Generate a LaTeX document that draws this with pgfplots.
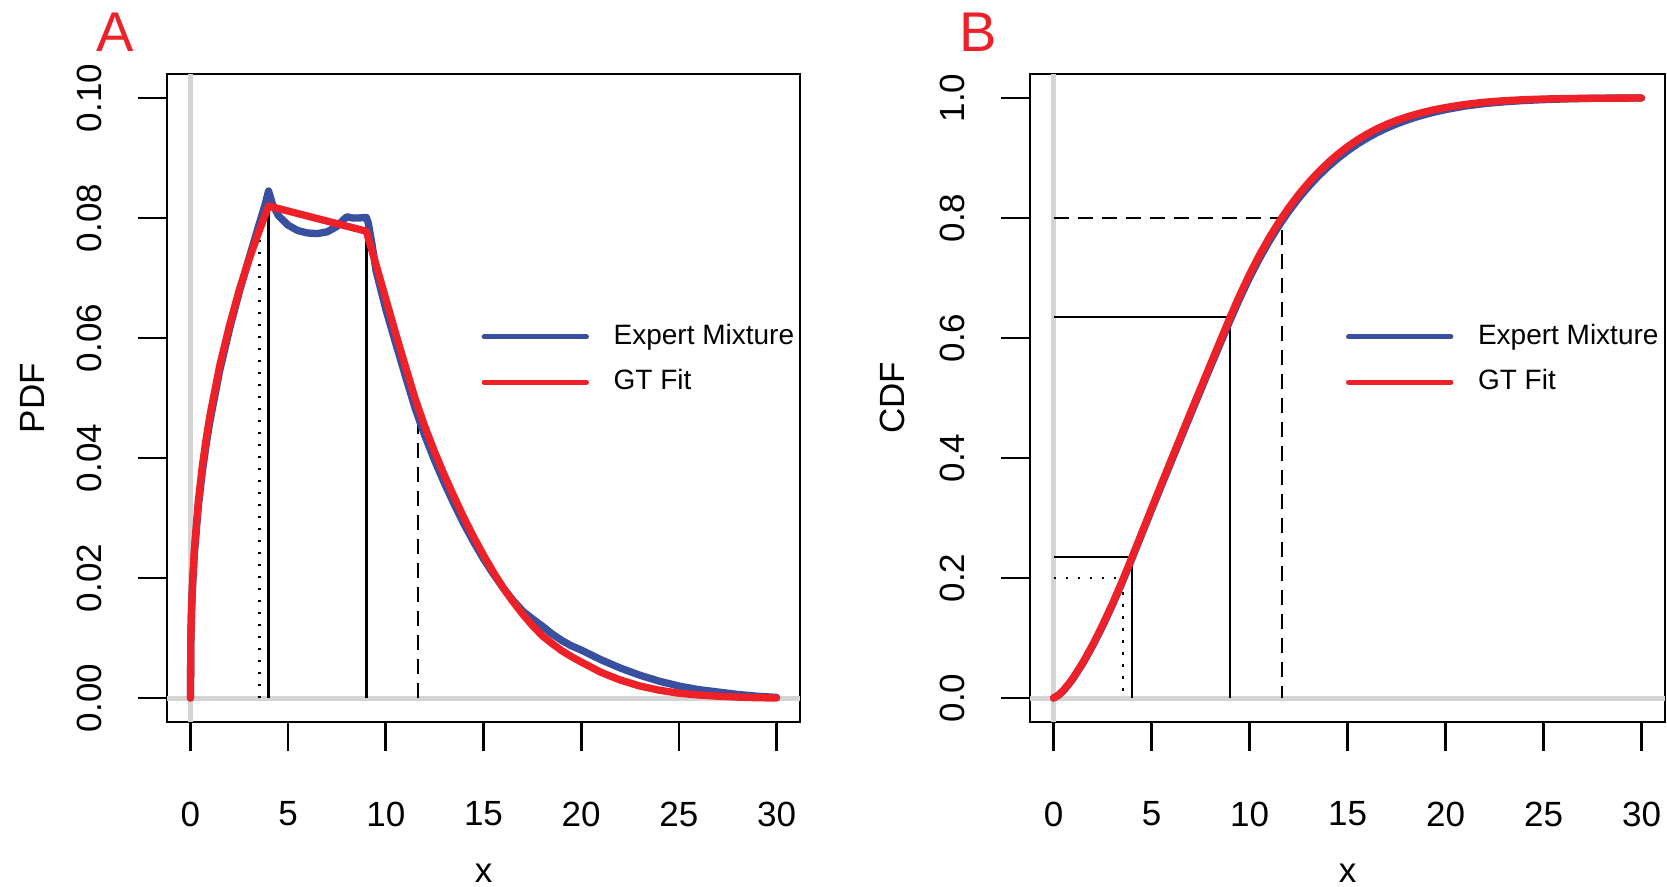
\documentclass[border=0pt]{standalone}
\usepackage{fontspec}
\setmainfont{Liberation Sans}
\usepackage{pgfplots}
\pgfplotsset{compat=1.18}

\definecolor{emblue}{RGB}{57,79,160}
\definecolor{gtred}{RGB}{237,33,39}
\definecolor{refgray}{RGB}{212,212,212}

\pgfplotsset{
  rpanel/.style={
    scale only axis,
    anchor=south west,
    height=194.4pt,
    xmin=-1.2, xmax=31.2,
    axis line style={line width=0.8pt, black},
    tick align=outside,
    major tick length=8.7pt,
    tick style={line width=0.8pt, black},
    tick pos=left,
    xtick={0,5,...,30},
    tick label style={font=\fontsize{10.5}{12}\selectfont},
    label style={font=\fontsize{10.5}{12}\selectfont},
    /pgf/number format/assume math mode=true,
    xticklabel style={yshift=-11.7pt},
    yticklabel style={xshift=-7.2pt, rotate=90, anchor=south,
      /pgf/number format/fixed, /pgf/number format/fixed zerofill},
    xlabel={x},
    xlabel style={at={(axis description cs:0.5,-0.233)}, anchor=center},
    legend image code/.code={\draw[#1, line width=1.5pt] (0pt,0pt) -- (30.7pt,0pt);},
    legend style={draw=none, fill=none, inner sep=0pt,
      font=\fontsize{8.4}{10}\selectfont, row sep=4pt, column sep=6.4pt,
      nodes={inner sep=1pt}},
    legend cell align=left,
  },
  curve/.style={line width=2.2pt, line cap=round, line join=round},
  zeroline/.style={refgray, line width=1.5pt, forget plot},
  refline/.style={black, line width=0.8pt, forget plot},
}

\begin{document}
\begin{tikzpicture}
\useasboundingbox (0,0) rectangle (500.1pt,265.8pt);

\node[text=gtred, font=\fontsize{16.8}{20}\selectfont] at (34.5pt,256.2pt) {A};
\node[text=gtred, font=\fontsize{16.8}{20}\selectfont] at (293.4pt,256.2pt) {B};

% ---- A: PDF
\begin{axis}[rpanel,
  at={(50.1pt,49.2pt)}, width=189.9pt,
  ymin=-0.004, ymax=0.104,
  ytick={0,0.02,...,0.1},
  yticklabel style={/pgf/number format/precision=2},
  ylabel={PDF},
  ylabel style={at={(axis description cs:-0.213,0.5)}, anchor=center},
  legend style={at={(axis cs:14.87,0.0564)}, anchor=west},
]
\addplot[zeroline] coordinates {(0,-0.004) (0,0.104)};
\addplot[zeroline] coordinates {(-1.2,0) (31.2,0)};
\addplot[refline, dash pattern=on 0.7pt off 2.9pt] coordinates {(3.55,0) (3.55,0.0766)};
\addplot[refline] coordinates {(4,0) (4,0.082)};
\addplot[refline] coordinates {(9,0) (9,0.0778)};
\addplot[refline, dash pattern=on 4.5pt off 2.7pt] coordinates {(11.65,0) (11.65,0.0457)};

\addplot[curve, emblue] table {
0 0
0.02 0.0095
0.05 0.0138
0.1 0.0182
0.2 0.0240
0.4 0.0318
0.6 0.0375
0.8 0.0422
1.0 0.0462
1.5 0.0546
2.0 0.0615
2.5 0.0677
3.0 0.0733
3.5 0.0788
3.8 0.0820
4.0 0.0845
4.2 0.0823
4.5 0.0804
5.0 0.0788
5.5 0.0779
6.0 0.0775
6.5 0.0774
7.0 0.0777
7.5 0.0786
7.8 0.0796
8.0 0.0802
8.3 0.0800
8.6 0.0800
9.0 0.0801
9.1 0.0792
9.3 0.0755
9.5 0.0712
10 0.0648
10.5 0.0592
11 0.0537
11.5 0.0483
12 0.0437
12.5 0.0396
13 0.0358
13.5 0.0323
14 0.0290
14.5 0.0260
15 0.0232
15.5 0.0207
16 0.0184
16.5 0.0163
17 0.0145
17.5 0.0132
18 0.0120
18.5 0.0107
19 0.0096
19.5 0.0087
20 0.0080
21 0.0064
22 0.0050
23 0.0038
24 0.0028
25 0.0020
26 0.0014
27 0.0010
28 0.0006
29 0.0003
30 0.0001
};
\addlegendentry{Expert Mixture}

\addplot[curve, gtred] table {
0 0
0.02 0.0099
0.05 0.0142
0.1 0.0187
0.2 0.0247
0.4 0.0327
0.6 0.0384
0.8 0.0431
1.0 0.0471
1.5 0.0554
2.0 0.0621
2.5 0.0680
3.0 0.0731
3.5 0.0777
4.0 0.0820
9.0 0.0778
9.5 0.0722
10 0.0665
10.5 0.0608
11 0.0553
11.5 0.0499
12 0.0452
12.5 0.0410
13 0.0371
13.5 0.0335
14 0.0300
14.5 0.0268
15 0.0238
15.5 0.0210
16 0.0184
16.5 0.0161
17 0.0140
17.5 0.0121
18 0.0104
18.5 0.0091
19 0.0079
19.5 0.0069
20 0.0060
21 0.0043
22 0.0030
23 0.0020
24 0.0013
25 0.0008
26 0.0005
27 0.0003
28 0.00015
29 0.00005
30 0
};
\addlegendentry{GT Fit}
\end{axis}

% ---- B: CDF
\begin{axis}[rpanel,
  at={(309pt,49.2pt)}, width=190.5pt,
  ymin=-0.04, ymax=1.04,
  ytick={0,0.2,...,1.0},
  yticklabel style={/pgf/number format/precision=1},
  ylabel={CDF},
  ylabel style={at={(axis description cs:-0.216,0.5)}, anchor=center},
  legend style={at={(axis cs:14.89,0.564)}, anchor=west},
]
\addplot[zeroline] coordinates {(0,-0.04) (0,1.04)};
\addplot[zeroline] coordinates {(-1.2,0) (31.2,0)};
\addplot[refline, dash pattern=on 0.7pt off 2.9pt] coordinates {(0,0.2) (3.55,0.2) (3.55,0)};
\addplot[refline] coordinates {(0,0.235) (4,0.235) (4,0)};
\addplot[refline] coordinates {(0,0.635) (9,0.635) (9,0)};
\addplot[refline, dash pattern=on 4.5pt off 2.7pt] coordinates {(0,0.8) (11.65,0.8) (11.65,0)};

\addplot[curve, emblue] table {
0 0
0.25 0.0046
0.5 0.0120
0.75 0.0217
1 0.0325
1.5 0.0580
2 0.0872
2.5 0.1195
3 0.1547
3.5 0.1924
4 0.2323
5 0.3135
6 0.3935
7 0.4730
8 0.5516
9 0.6288
9.5 0.6660
10 0.7006
10.5 0.7322
11 0.7610
11.5 0.7873
12 0.8111
12.5 0.8326
13 0.8520
13.5 0.8695
14 0.8852
14.5 0.8993
15 0.9119
15.5 0.9232
16 0.9332
16.5 0.9421
17 0.9499
17.5 0.9568
18 0.9628
18.5 0.9682
19 0.9729
19.5 0.9771
20 0.9807
21 0.9866
22 0.9908
23 0.9937
24 0.9958
25 0.9973
26 0.9984
27 0.9992
28 0.9997
29 0.9999
30 1.0
};
\addlegendentry{Expert Mixture}

\addplot[curve, gtred] table {
0 0
0.25 0.0048
0.5 0.0127
0.75 0.0225
1 0.0336
1.5 0.0594
2 0.0888
2.5 0.1213
3 0.1566
3.5 0.1944
4 0.2343
5 0.3159
6 0.3966
7 0.4765
8 0.5556
9 0.6338
9.5 0.6713
10 0.7060
10.5 0.7378
11 0.7668
11.5 0.7932
12 0.8171
12.5 0.8388
13 0.8584
13.5 0.8761
14 0.8920
14.5 0.9062
15 0.9189
15.5 0.9301
16 0.9400
16.5 0.9486
17 0.9561
17.5 0.9626
18 0.9682
18.5 0.9730
19 0.9772
19.5 0.9809
20 0.9841
21 0.9893
22 0.9930
23 0.9955
24 0.9972
25 0.9983
26 0.9990
27 0.9994
28 0.9996
29 0.9998
30 1.0
};
\addlegendentry{GT Fit}
\end{axis}
\end{tikzpicture}
\end{document}
